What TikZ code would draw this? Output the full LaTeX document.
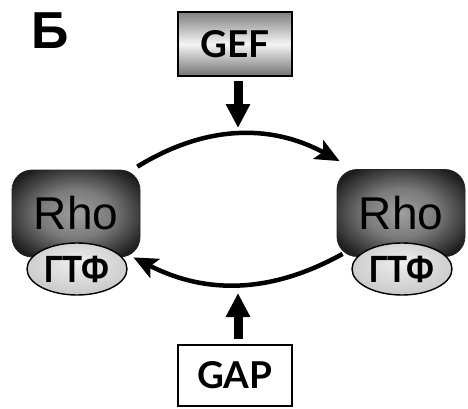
\documentclass[tikz,border=0pt]{standalone}
\usepackage{fontspec}
\setmainfont{Liberation Sans}
\newfontfamily\labelfont{Lato}
\usetikzlibrary{arrows.meta,shapes.geometric,positioning}
\pgfdeclareradialshading{rhoshade}{\pgfpoint{0bp}{0bp}}{color(0bp)=(black!38); color(14bp)=(black!52); color(30bp)=(black!88); color(40bp)=(black!96); color(50bp)=(black)}
\pgfdeclareradialshading{gtpshade}{\pgfpoint{0bp}{8bp}}{color(0bp)=(black!6); color(30bp)=(black!22); color(50bp)=(black!45)}

\begin{document}
\begin{tikzpicture}[x=1pt,y=1pt,
  regbox/.style={draw=black,line width=1.6pt,minimum width=114pt,inner sep=0pt,font=\labelfont\bfseries\fontsize{37}{37}\selectfont},
  rhobox/.style={draw=black!85,line width=0.8pt,rounded corners=20pt,shading=rhoshade,minimum width=128pt,minimum height=87pt,inner sep=0pt,font=\fontsize{46}{46}\selectfont},
  gtp/.style={ellipse,draw=black,line width=1.4pt,shading=gtpshade,minimum width=100pt,minimum height=52pt,inner sep=0pt,font=\bfseries\fontsize{38}{38}\selectfont},
  cycarrow/.style={line width=4.5pt,-{Stealth[length=24pt,width=21pt,inset=5pt]}},
  regarrow/.style={line width=9pt,-{Triangle[length=24pt,width=23pt]}}
]
\useasboundingbox (0,0) rectangle (468,408);
%% panel letter
\node[font=\bfseries\fontsize{52}{52}\selectfont] (panel) at (50,377) {Б};
%% regulators
\node[regbox,minimum height=64pt,top color=black!50,bottom color=black!55,middle color=black!4] (gef) at (235,364) {GEF};
\node[regbox,minimum height=61pt,fill=white] (gap) at (235,32.5) {GAP};
%% Rho proteins with bound nucleotide
\node[rhobox] (rhoL) at (76,194.5) {Rho};
\node[rhobox] (rhoR) at (401,195) {Rho};
\node[gtp] (gtpL) at (77,139) {\scalebox{0.86}[1]{ГТФ}};
\node[gtp] (gtpR) at (402,139) {\scalebox{0.86}[1]{ГТФ}};
%% cycle
\draw[cycarrow] ([shift={(-3,3)}]rhoL.north east) to[bend left=30] ([shift={(3,8)}]rhoR.north west);
\draw[cycarrow] ([shift={(6,3)}]rhoR.south west) to[bend left=28] ([shift={(-7,0)}]rhoL.south east);
%% regulator arrows
\coordinate (gefTip) at (238,280);
\coordinate (gefTop) at (gef.south -| gefTip);
\draw[regarrow] ([yshift=-4pt]gefTop) -- (gefTip);
\coordinate (gapTip) at (238,115);
\coordinate (gapBot) at (gap.north -| gapTip);
\draw[regarrow] ([yshift=5pt]gapBot) -- (gapTip);
\end{tikzpicture}
\end{document}
